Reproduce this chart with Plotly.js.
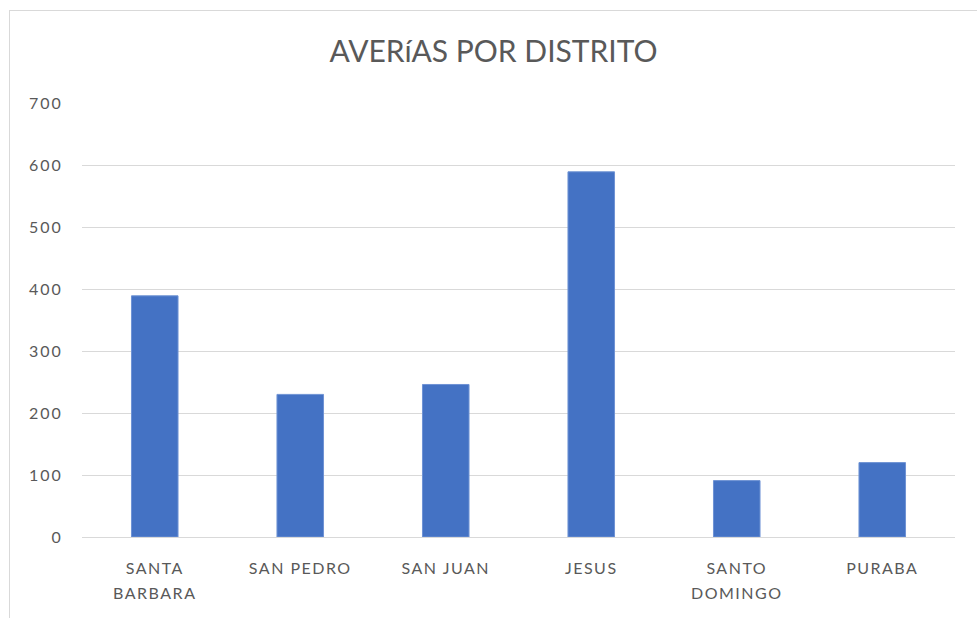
<!DOCTYPE html>
<html>
<head>
<meta charset="utf-8">
<script src="https://cdn.plot.ly/plotly-3.0.1.min.js"></script>
<style>
  html, body { margin: 0; padding: 0; background: #fff; }
  #chart { position: absolute; left: 9px; top: 10px; width: 967px; height: 607px;
           border-left: 1px solid #d9d9d9; border-top: 1px solid #d9d9d9; }
  #chart .xtick text { letter-spacing: 1.5px; }
  #chart .ytick text { letter-spacing: 2px; }
</style>
</head>
<body>
<div id="chart"></div>
<script>
const categories = ["SANTA<br>BARBARA", "SAN PEDRO", "SAN JUAN", "JESUS", "SANTO<br>DOMINGO", "PURABA"];
const averias = [389, 230, 246, 589, 91, 120];
const yTicks = [0, 100, 200, 300, 400, 500, 600, 700];

const trace = {
  type: "bar",
  x: categories,
  y: averias,
  marker: { color: "#4472C4", line: { color: "#6f93d4", width: 1 } },
  hoverinfo: "x+y"
};

const layout = {
  width: 967, height: 607,
  margin: { l: 72, r: 22, t: 92, b: 81 },
  paper_bgcolor: "#fff", plot_bgcolor: "#fff",
  font: { family: "Lato, 'Open Sans', sans-serif", color: "#595959", size: 16 },
  title: { text: "AVERíAS POR DISTRITO", x: 0.5, xanchor: "center",
           y: 1 - 40 / 607, yanchor: "middle", yref: "container",
           font: { size: 30, color: "#595959", family: "Lato, 'Open Sans', sans-serif" } },
  bargap: 0.68,
  showlegend: false,
  xaxis: { type: "category", showgrid: false, zeroline: false, showline: false,
           ticks: "outside", ticklen: 17, tickcolor: "rgba(0,0,0,0)",
           tickfont: { size: 16, color: "#595959" } },
  yaxis: { range: [0, 700], tickvals: yTicks, ticktext: yTicks.map(String),
           showgrid: true, gridcolor: "#d9d9d9", gridwidth: 1,
           zeroline: true, zerolinecolor: "#d9d9d9", zerolinewidth: 1, showline: false,
           ticks: "outside", ticklen: 15, tickcolor: "rgba(0,0,0,0)",
           tickfont: { size: 16, color: "#595959" } }
};

Plotly.newPlot("chart", [trace], layout, { displayModeBar: false, staticPlot: true }).then(function (gd) {
  // widen the line spacing of the two-line category labels
  gd.querySelectorAll(".xtick text tspan.line").forEach(function (t, i) {
    const dy = t.getAttribute("dy");
    if (dy && parseFloat(dy) > 0) t.setAttribute("dy", "1.56em");
  });
});
</script>
</body>
</html>
